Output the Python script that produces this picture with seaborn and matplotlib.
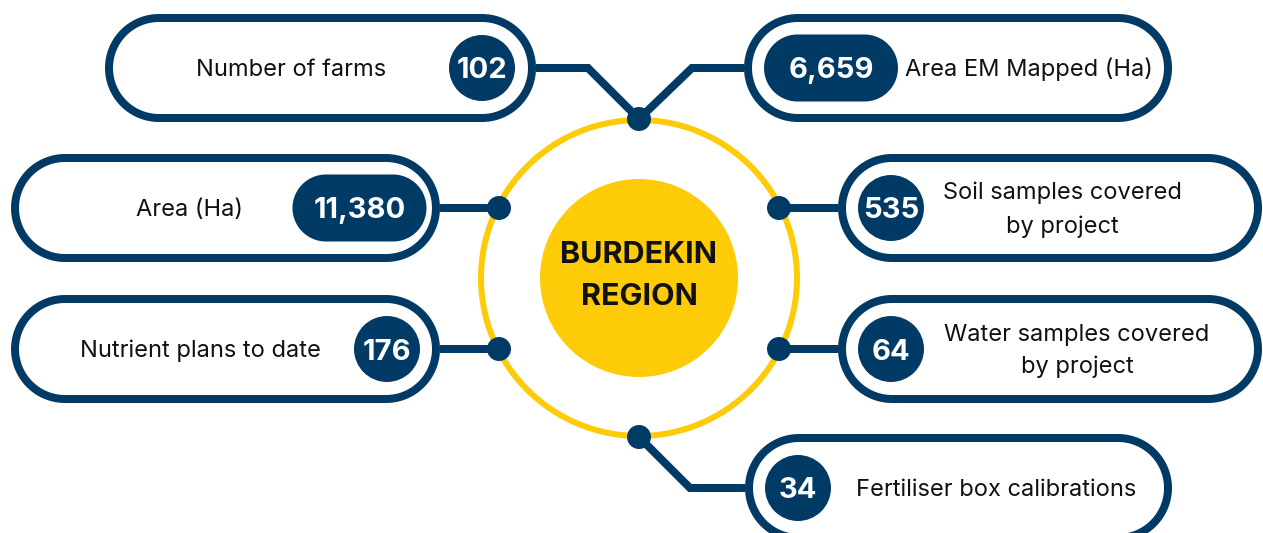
import numpy as np
import matplotlib.pyplot as plt
from matplotlib.patches import Polygon, Circle
import pandas as pd
import seaborn as sns

# Figures shown on the infographic
labels = [
    "Number of farms",
    "Area EM Mapped (Ha)",
    "Area (Ha)",
    "Soil samples covered\nby project",
    "Nutrient plans to date",
    "Water samples covered\nby project",
    "Fertiliser box calibrations",
]
values = [102, 6659, 11380, 535, 176, 64, 34]
region = ["BURDEKIN", "REGION"]

# Layout (pixel space, y grows downwards)
pill_x0 = [105, 744, 11, 838, 11, 838, 745]
pill_x1 = [536, 1172, 440, 1262, 440, 1262, 1172]
pill_yc = [68, 68, 208, 208, 349, 349, 488]
badge_x = [482, 831, 359.5, 891, 387, 891, 798]
text_x = [291, 905, 190, 1062, 200, 1077, 856]
text_ha = ["center", "left", "center", "center", "center", "center", "left"]
connectors = [
    [(536, 68), (588, 68), (639, 119)],
    [(744, 68), (692, 68), (639, 119)],
    [(440, 208), (499, 208)],
    [(838, 208), (779, 208)],
    [(440, 349), (499, 349)],
    [(838, 349), (779, 349)],
    [(745, 488), (690, 488), (639, 437)],
]
dots = pd.DataFrame({"x": [639, 499, 779, 499, 779, 639],
                     "y": [119, 208, 208, 349, 349, 437]})

NAVY = "#023a66"
YELLOW = "#fdcb07"
INK = "#111111"
PX = 72 / 100  # pixels -> points at dpi 100


def stadium(x0, x1, yc, h, **kw):
    # pill shape with true semicircular ends
    r = h / 2
    t = np.linspace(-np.pi / 2, np.pi / 2, 60)
    right = np.column_stack([x1 - r + r * np.cos(t), yc + r * np.sin(t)])
    left = np.column_stack([x0 + r - r * np.cos(t), yc - r * np.sin(t)])
    return Polygon(np.vstack([right, left]), closed=True, **kw)


sns.set_theme(style="white")
plt.rcParams["font.family"] = ["Inter", "DejaVu Sans"]

fig = plt.figure(figsize=(12.63, 5.33), dpi=100)
ax = fig.add_axes([0, 0, 1, 1])

# centre ring + disc
cx, cy = 639, 278
ax.add_patch(Circle((cx, cy), 158, fill=False, ec=YELLOW, lw=6 * PX, zorder=1))
ax.add_patch(Circle((cx, cy), 99, fc=YELLOW, ec="none", zorder=1))
ax.text(cx, 252 + 11, region[0], ha="center", va="baseline", fontsize=22,
        fontweight="bold", color=INK, zorder=5)
ax.text(cx, 294 + 11, region[1], ha="center", va="baseline", fontsize=22,
        fontweight="bold", color=INK, zorder=5)

# connectors
for pts in connectors:
    xs, ys = zip(*pts)
    ax.plot(xs, ys, color=NAVY, lw=8 * PX, solid_joinstyle="miter",
            solid_capstyle="butt", zorder=2)
sns.scatterplot(data=dots, x="x", y="y", s=(24 * PX) ** 2, color=NAVY,
                edgecolor="none", zorder=4, ax=ax, legend=False)

# outlined pills, badges and labels
BORDER = 8
H = 108
for i, lab in enumerate(labels):
    x0, x1, yc = pill_x0[i], pill_x1[i], pill_yc[i]
    ax.add_patch(stadium(x0 + BORDER / 2, x1 - BORDER / 2, yc, H - BORDER,
                         fc="white", ec=NAVY, lw=BORDER * PX, zorder=3))

    txt = f"{values[i]:,}"
    bx = badge_x[i]
    if len(txt) <= 3:
        ax.add_patch(Circle((bx, yc), 33, fc=NAVY, ec="none", zorder=4))
    else:
        bw, bh = 134, 67
        ax.add_patch(stadium(bx - bw / 2, bx + bw / 2, yc, bh,
                             fc=NAVY, ec="none", zorder=4))
    ax.text(bx, yc + 10.5, txt, ha="center", va="baseline", fontsize=21,
            fontweight="bold", color="white", zorder=5)

    lines = lab.split("\n")
    step = 33
    top = yc - step * (len(lines) - 1) / 2
    for k, line in enumerate(lines):
        ax.text(text_x[i], top + k * step + 8, line, ha=text_ha[i],
                va="baseline", fontsize=17, color=INK, zorder=5)

ax.set_xlim(0, 1263)
ax.set_ylim(533, 0)
ax.axis("off")

fig.savefig("out.png", dpi=100, facecolor="white")
